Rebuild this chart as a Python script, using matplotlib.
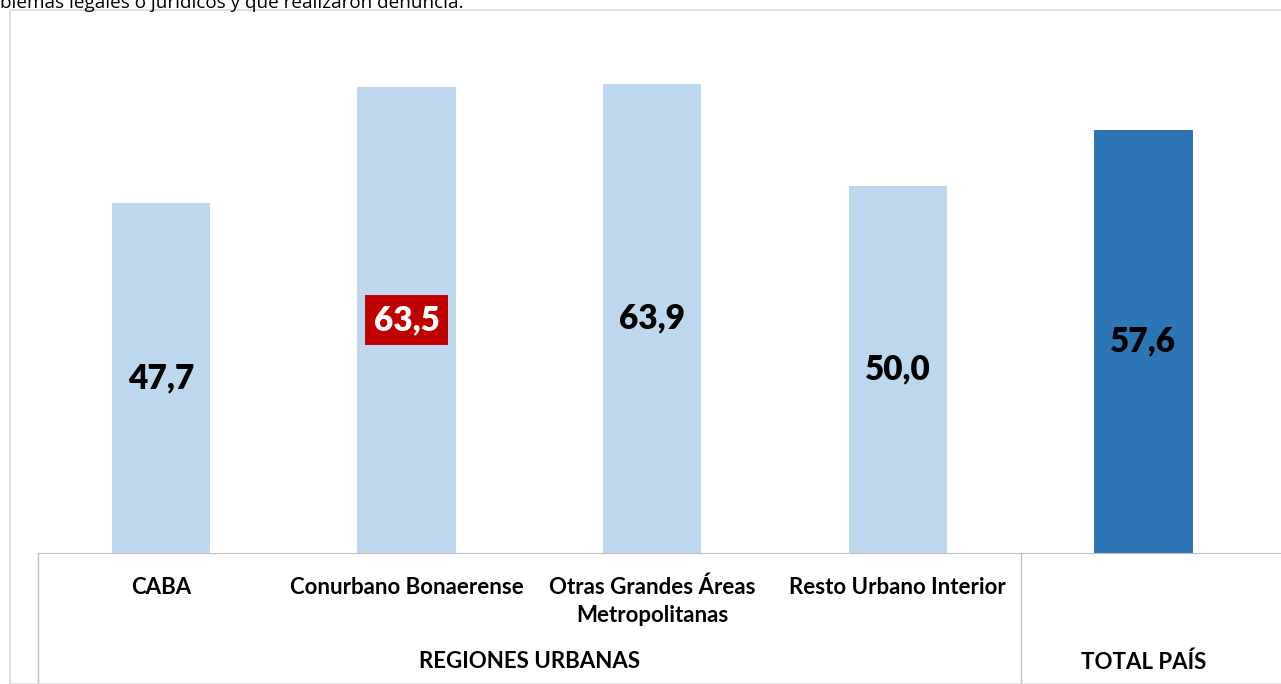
import matplotlib.pyplot as plt
from matplotlib.patches import Rectangle

plt.rcParams['font.family'] = ['Lato', 'DejaVu Sans']

regiones = ['CABA', 'Conurbano Bonaerense', 'Otras Grandes Áreas\nMetropolitanas',
            'Resto Urbano Interior', '']
valores = [47.7, 63.5, 63.9, 50.0, 57.6]
grupos = ['REGIONES URBANAS', 'TOTAL PAÍS']
colores = ['#BDD7EE', '#BDD7EE', '#BDD7EE', '#BDD7EE', '#2E75B6']
titulo = 'blemas legales o jurídicos y que realizaron denuncia.'

fig = plt.figure(figsize=(12.81, 6.84), dpi=100)
W, H = 1281, 684

# marco del gráfico
fig.patches.append(Rectangle((10 / W, 0), 1.2, 1 - 10 / H, transform=fig.transFigure,
                             fill=False, edgecolor='#D9D9D9', lw=1.2))
fig.text(0, 1 - 8 / H, titulo, fontsize=13.6, va='baseline', ha='left', family=['Open Sans'])

ax = fig.add_axes([38 / W, (H - 553) / H, (W - 38) / W, (553 - 39) / H])
x = list(range(len(valores)))
ax.bar(x, valores, width=0.4, color=colores, zorder=2)
ax.set_xlim(-0.5, 4.56)
ax.set_ylim(0, 70)

for s in ['top', 'right', 'left']:
    ax.spines[s].set_visible(False)
ax.spines['bottom'].set_color('#BFBFBF')
ax.set_yticks([])
ax.set_xticks([])

# valores en el centro de cada barra
for i, v in enumerate(valores):
    txt = f'{v:.1f}'.replace('.', ',')
    if i == 1:
        ax.text(i, v / 2, txt, ha='center', va='center', fontsize=24, fontweight='heavy',
                color='white', bbox=dict(boxstyle='square,pad=0.27', fc='#C00000', ec='none'))
    else:
        ax.text(i, v / 2, txt, ha='center', va='center', fontsize=24, fontweight='heavy',
                color='black')

# eje de categorías en dos niveles
tr = ax.get_xaxis_transform()
axh = 553 - 39
for i, r in enumerate(regiones):
    ax.text(i, -(24 / axh), r, transform=tr, ha='center', va='top', fontsize=16,
            fontweight='bold', linespacing=1.4)
ax.text(1.5, -(109 / axh), grupos[0], transform=tr, ha='center', va='center',
        fontsize=16, fontweight='bold')
ax.text(4.0, -(109 / axh), grupos[1], transform=tr, ha='center', va='center',
        fontsize=16, fontweight='bold')
for xv in [-0.5, 3.5]:
    ax.plot([xv, xv], [0, -(131 / axh)], transform=tr, color='#BFBFBF', lw=1, clip_on=False)

fig.savefig('out.png', dpi=100)
